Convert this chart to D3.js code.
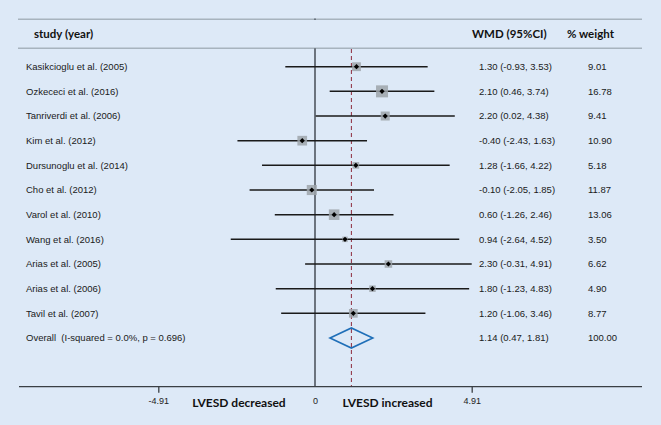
<!DOCTYPE html>
<html>
<head>
<meta charset="utf-8">
<script src="https://cdn.jsdelivr.net/npm/d3@7"></script>
<style>
  html, body { margin: 0; padding: 0; background: #dde9f7; }
  svg { display: block; }
  text { white-space: pre; }
</style>
</head>
<body>
<svg id="chart" width="661" height="425"></svg>
<script>
const studies = ["Kasikcioglu et al. (2005)", "Ozkececi et al. (2016)", "Tanriverdi et al. (2006)",
  "Kim et al. (2012)", "Dursunoglu et al. (2014)", "Cho et al. (2012)", "Varol et al. (2010)",
  "Wang et al. (2016)", "Arias et al. (2005)", "Arias et al. (2006)", "Tavil et al. (2007)"];
const wmd   = [1.30, 2.10, 2.20, -0.40, 1.28, -0.10, 0.60, 0.94, 2.30, 1.80, 1.20];
const lower = [-0.93, 0.46, 0.02, -2.43, -1.66, -2.05, -1.26, -2.64, -0.31, -1.23, -1.06];
const upper = [3.53, 3.74, 4.38, 1.63, 4.22, 1.85, 2.46, 4.52, 4.91, 4.83, 3.46];
const weights = [9.01, 16.78, 9.41, 10.90, 5.18, 11.87, 13.06, 3.50, 6.62, 4.90, 8.77];
const overallLabel = "Overall  (I-squared = 0.0%, p = 0.696)";
const overall = { est: 1.14, lo: 0.47, hi: 1.81, weight: 100.00 };
const tickValues = [-4.91, 0, 4.91];
const tickLabels = ["-4.91", "0", "4.91"];
const headers = { study: "study (year)", wmd: "WMD (95%CI)", weight: "% weight" };
const sideLabels = ["LVESD decreased", "LVESD increased"];

const svg = d3.select("#chart");
const x = d3.scaleLinear().domain([-4.91, 4.91]).range([158.3, 471.7]);
const y = d3.scaleLinear().domain([0, 11]).range([66.7, 338]);
const size = d3.scaleSqrt().domain([0, 16.78]).range([0, 12]);

const fmt = v => v.toFixed(2);
const sansText = "'Liberation Sans', Arial, sans-serif";
const boldText = "Lato, 'Open Sans', sans-serif";

// header lines
svg.append("line").attr("x1", 18).attr("x2", 642).attr("y1", 19.3).attr("y2", 19.3)
  .attr("stroke", "#a7b3be").attr("stroke-width", 1.5);
svg.append("line").attr("x1", 18).attr("x2", 642).attr("y1", 48.3).attr("y2", 48.3)
  .attr("stroke", "#a7b3be").attr("stroke-width", 1.5);
svg.append("line").attr("x1", x(0)-1).attr("x2", x(0)+1).attr("y1", 19.3).attr("y2", 19.3)
  .attr("stroke", "#6a7580").attr("stroke-width", 1.5);

// header text
const hdr = svg.append("g").attr("font-family", boldText).attr("font-weight", "bold")
  .attr("font-size", 11.5).attr("fill", "#111");
hdr.append("text").attr("x", 34).attr("y", 34).attr("dy", "0.35em").text(headers.study);
hdr.append("text").attr("x", 472).attr("y", 34).attr("dy", "0.35em").text(headers.wmd);
hdr.append("text").attr("x", 567).attr("y", 34).attr("dy", "0.35em").text(headers.weight);

// zero line
svg.append("line").attr("x1", x(0)).attr("x2", x(0)).attr("y1", 48.3).attr("y2", 386.7)
  .attr("stroke", "#5f6770").attr("stroke-width", 1.8);

// dashed overall line
svg.append("line").attr("x1", x(overall.est)).attr("x2", x(overall.est)).attr("y1", 49).attr("y2", 386)
  .attr("stroke", "#8c2a3c").attr("stroke-width", 1).attr("stroke-dasharray", "4,3");

// axis
svg.append("line").attr("x1", 19).attr("x2", 642).attr("y1", 386.7).attr("y2", 386.7)
  .attr("stroke", "#3a3f44").attr("stroke-width", 1.3);
const axis = d3.axisBottom(x).tickValues(tickValues).tickSize(6)
  .tickFormat((d, i) => tickLabels[i]);
const ag = svg.append("g").attr("transform", "translate(0,386.7)").call(axis);
ag.select(".domain").remove();
ag.selectAll(".tick line").attr("stroke", "#3a3f44").attr("stroke-width", 1.3)
  .attr("opacity", d => d === 0 ? 0 : 1);
ag.selectAll(".tick text").attr("font-family", sansText).attr("font-size", 9)
  .attr("fill", "#222").attr("y", 11);

// side labels
const sl = svg.append("g").attr("font-family", boldText).attr("font-weight", "bold")
  .attr("font-size", 12).attr("fill", "#111").attr("text-anchor", "middle");
sl.append("text").attr("x", 239).attr("y", 403).attr("dy", "0.35em").text(sideLabels[0]);
sl.append("text").attr("x", 387.5).attr("y", 403).attr("dy", "0.35em").text(sideLabels[1]);

// rows
const rows = studies.map((s, i) => ({ s, i, est: wmd[i], lo: lower[i], hi: upper[i], w: weights[i] }));
const g = svg.append("g");

g.selectAll("line.ci").data(rows).join("line").attr("class", "ci")
  .attr("x1", d => x(d.lo)).attr("x2", d => x(d.hi))
  .attr("y1", d => y(d.i)).attr("y2", d => y(d.i))
  .attr("stroke", "#1a1a1a").attr("stroke-width", 1.5);

g.selectAll("rect.box").data(rows).join("rect").attr("class", "box")
  .attr("x", d => x(d.est) - size(d.w) / 2).attr("y", d => y(d.i) - size(d.w) / 2)
  .attr("width", d => size(d.w)).attr("height", d => size(d.w))
  .attr("fill", "#9ea4aa").attr("opacity", 0.85);

g.selectAll("path.dot").data(rows).join("path").attr("class", "dot")
  .attr("d", d => {
    const cx = x(d.est), cy = y(d.i), r = 2.6;
    return `M${cx},${cy - r}L${cx + r},${cy}L${cx},${cy + r}L${cx - r},${cy}Z`;
  })
  .attr("fill", "#000");

const txt = svg.append("g").attr("font-family", sansText).attr("font-size", 9.5).attr("fill", "#1a1a1a");
txt.selectAll("text.study").data(rows).join("text").attr("class", "study")
  .attr("x", 26).attr("y", d => y(d.i)).attr("dy", "0.35em").text(d => d.s);
txt.selectAll("text.wmd").data(rows).join("text").attr("class", "wmd")
  .attr("x", 479).attr("y", d => y(d.i)).attr("dy", "0.35em")
  .text(d => `${fmt(d.est)} (${fmt(d.lo)}, ${fmt(d.hi)})`);
txt.selectAll("text.wt").data(rows).join("text").attr("class", "wt")
  .attr("x", 588).attr("y", d => y(d.i)).attr("dy", "0.35em").text(d => fmt(d.w));

// overall
const oy = y(studies.length);
txt.append("text").attr("x", 26).attr("y", oy).attr("dy", "0.35em")
  .attr("xml:space", "preserve").text(overallLabel);
txt.append("text").attr("x", 479).attr("y", oy).attr("dy", "0.35em")
  .text(`${fmt(overall.est)} (${fmt(overall.lo)}, ${fmt(overall.hi)})`);
txt.append("text").attr("x", 588).attr("y", oy).attr("dy", "0.35em").text(fmt(overall.weight));

svg.append("path")
  .attr("d", `M${x(overall.lo)},${oy}L${x(overall.est)},${oy - 10}L${x(overall.hi)},${oy}L${x(overall.est)},${oy + 10}Z`)
  .attr("fill", "none").attr("stroke", "#1f6fb8").attr("stroke-width", 1.6);
</script>
</body>
</html>
